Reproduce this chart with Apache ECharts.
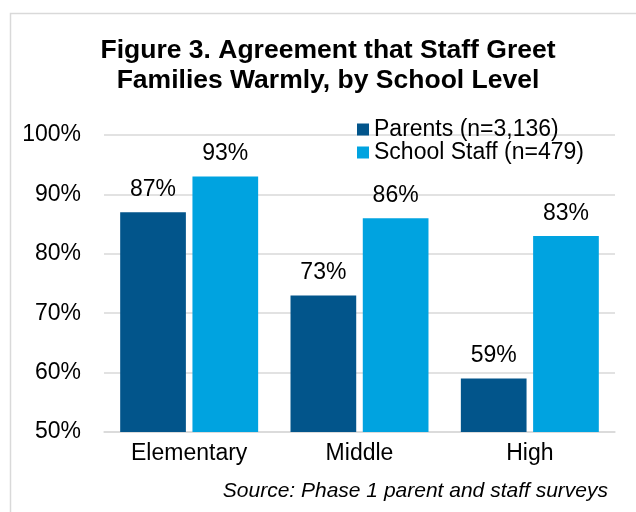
<!DOCTYPE html>
<html>
<head>
<meta charset="utf-8">
<script src="https://cdn.jsdelivr.net/npm/echarts@6/dist/echarts.min.js"></script>
<style>html,body{margin:0;padding:0;background:#fff}#c{width:636px;height:512px}</style>
</head>
<body>
<div id="c"></div>
<script>
var categories = ['Elementary', 'Middle', 'High'];
var parents = [87, 73, 59];
var staff = [93, 86, 83];
var seriesNames = ['Parents (n=3,136)', 'School Staff (n=479)'];
var yTicks = [50, 60, 70, 80, 90, 100];

var FONT = 'Liberation Sans, Arial, sans-serif';
var chart = echarts.init(document.getElementById('c'));
chart.setOption({
  animation: false,
  backgroundColor: '#fff',
  title: {
    text: 'Figure 3. Agreement that Staff Greet\nFamilies Warmly, by School Level',
    left: 323,
    textAlign: 'center',
    top: 31,
    textStyle: { fontFamily: FONT, fontSize: 26.5, fontWeight: 'bold', color: '#000', lineHeight: 30 }
  },
  legend: {
    orient: 'vertical',
    left: 357,
    top: 118,
    padding: 0,
    itemWidth: 12,
    itemHeight: 12,
    itemGap: 0,
    icon: 'rect',
    textStyle: { fontFamily: FONT, fontSize: 23, color: '#000', lineHeight: 23 },
    data: seriesNames
  },
  grid: { left: 104, right: 21, top: 135, bottom: 80 },
  xAxis: {
    type: 'category',
    data: categories,
    axisLine: { lineStyle: { color: '#d9d9d9', width: 1.5 } },
    axisTick: { show: false },
    axisLabel: { fontFamily: FONT, fontSize: 23, color: '#000', margin: 10 }
  },
  yAxis: {
    type: 'value',
    min: yTicks[0],
    max: yTicks[yTicks.length - 1],
    interval: 10,
    axisLine: { show: false },
    axisTick: { show: false },
    splitLine: { lineStyle: { color: '#d9d9d9', width: 1.5 } },
    axisLabel: { fontFamily: FONT, fontSize: 23, color: '#000', margin: 23, formatter: '{value}%' }
  },
  series: [
    {
      name: seriesNames[0], type: 'bar', data: parents,
      barGap: '10%', barCategoryGap: '19%',
      itemStyle: { color: '#02558B' },
      label: { show: true, position: 'top', distance: 11, formatter: '{c}%', fontFamily: FONT, fontSize: 23, color: '#000' }
    },
    {
      name: seriesNames[1], type: 'bar', data: staff,
      barGap: '10%', barCategoryGap: '19%',
      itemStyle: { color: '#00A3E0' },
      label: { show: true, position: 'top', distance: 11, formatter: '{c}%', fontFamily: FONT, fontSize: 23, color: '#000' }
    }
  ],
  graphic: [
    {
      type: 'rect', left: 8, top: 11, silent: true, z: -10,
      shape: { width: 700, height: 600 },
      style: { fill: 'none', stroke: '#d9d9d9', lineWidth: 1.5 }
    },
    {
      type: 'text', right: 28, top: 481,
      style: { text: 'Source: Phase 1 parent and staff surveys', font: 'italic 21px Liberation Sans, Arial, sans-serif', fill: '#000', textAlign: 'right' }
    }
  ]
});
</script>
</body>
</html>
